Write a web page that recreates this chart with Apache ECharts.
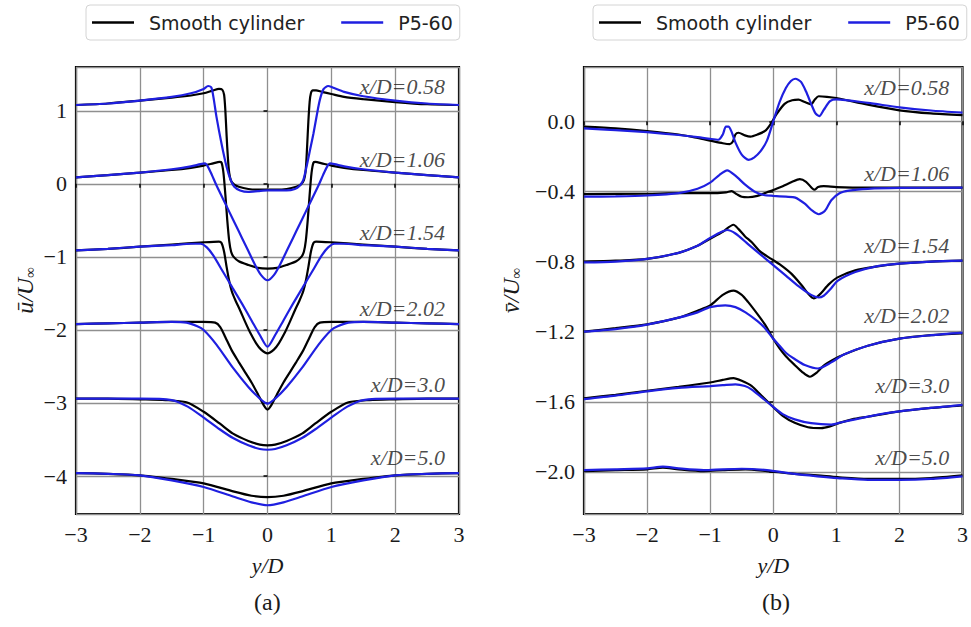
<!DOCTYPE html>
<html>
<head>
<meta charset="utf-8">
<script src="https://cdn.jsdelivr.net/npm/echarts@6/dist/echarts.min.js"></script>
<style>
  html, body { margin: 0; padding: 0; background: #fff; }
  #chart { width: 971px; height: 627px; }
</style>
</head>
<body>
<div id="chart"></div>
<script>
// ---------- station labels ----------
const stations = ['x/D=0.58', 'x/D=1.06', 'x/D=1.54', 'x/D=2.02', 'x/D=3.0', 'x/D=5.0'];
const seriesNames = ['Smooth cylinder', 'P5-60'];

// ---------- (a) streamwise mean velocity, offset by station: [y/D, u/U] ----------
const u058Smooth = [[-3,1.08],[-2.5,1.10],[-2,1.14],[-1.5,1.18],[-1.2,1.21],[-1,1.24],[-0.85,1.28],[-0.76,1.30],[-0.71,1.29],[-0.68,1.22],[-0.66,1.0],[-0.64,0.65],[-0.62,0.35],[-0.6,0.15],[-0.57,0.04],[-0.52,-0.01],[-0.45,-0.04],[-0.3,-0.07],[-0.15,-0.08],[0,-0.08],[0.15,-0.08],[0.3,-0.07],[0.45,-0.04],[0.52,-0.01],[0.57,0.05],[0.6,0.2],[0.62,0.5],[0.64,0.85],[0.66,1.12],[0.68,1.24],[0.71,1.28],[0.76,1.28],[0.85,1.26],[1,1.23],[1.2,1.19],[1.5,1.16],[2,1.12],[2.5,1.09],[3,1.08]];
const u058P560 = [[-3,1.08],[-2.5,1.10],[-2,1.14],[-1.5,1.19],[-1.2,1.24],[-1,1.30],[-0.93,1.34],[-0.88,1.32],[-0.84,1.15],[-0.8,0.92],[-0.72,0.55],[-0.64,0.23],[-0.58,0.06],[-0.52,-0.04],[-0.43,-0.09],[-0.3,-0.11],[-0.15,-0.10],[0,-0.09],[0.15,-0.09],[0.3,-0.09],[0.43,-0.07],[0.5,-0.03],[0.56,0.05],[0.61,0.23],[0.67,0.48],[0.72,0.69],[0.77,0.93],[0.82,1.15],[0.88,1.30],[0.95,1.34],[1.02,1.32],[1.2,1.26],[1.5,1.20],[2,1.14],[2.5,1.10],[3,1.08]];

const u106Smooth = [[-3,0.09],[-2.5,0.12],[-2,0.155],[-1.5,0.19],[-1.2,0.22],[-1,0.25],[-0.85,0.28],[-0.75,0.30],[-0.72,0.29],[-0.69,0.15],[-0.66,-0.15],[-0.63,-0.5],[-0.6,-0.78],[-0.57,-0.93],[-0.53,-1.0],[-0.45,-1.06],[-0.3,-1.11],[-0.15,-1.15],[0,-1.16],[0.15,-1.15],[0.3,-1.11],[0.45,-1.06],[0.53,-1.0],[0.57,-0.93],[0.6,-0.78],[0.63,-0.5],[0.66,-0.15],[0.69,0.15],[0.72,0.29],[0.75,0.30],[0.85,0.28],[1,0.25],[1.2,0.22],[1.5,0.19],[2,0.155],[2.5,0.12],[3,0.09]];
const u106P560 = [[-3,0.09],[-2.5,0.12],[-2,0.155],[-1.5,0.20],[-1.2,0.24],[-1.05,0.27],[-0.98,0.28],[-0.93,0.23],[-0.87,0.12],[-0.8,-0.02],[-0.7,-0.2],[-0.6,-0.38],[-0.5,-0.56],[-0.4,-0.74],[-0.3,-0.92],[-0.2,-1.1],[-0.1,-1.25],[0,-1.32],[0.1,-1.25],[0.2,-1.1],[0.3,-0.92],[0.4,-0.74],[0.5,-0.56],[0.6,-0.38],[0.7,-0.2],[0.8,-0.02],[0.87,0.12],[0.93,0.23],[0.98,0.28],[1.05,0.27],[1.2,0.24],[1.5,0.20],[2,0.155],[2.5,0.12],[3,0.09]];

const u154Smooth = [[-3,-0.91],[-2.5,-0.89],[-2,-0.86],[-1.5,-0.83],[-1,-0.80],[-0.76,-0.79],[-0.72,-0.81],[-0.68,-0.93],[-0.64,-1.14],[-0.6,-1.33],[-0.56,-1.47],[-0.5,-1.60],[-0.43,-1.73],[-0.35,-1.89],[-0.27,-2.04],[-0.18,-2.18],[-0.1,-2.27],[0,-2.32],[0.1,-2.27],[0.18,-2.18],[0.27,-2.04],[0.35,-1.89],[0.43,-1.73],[0.5,-1.60],[0.56,-1.47],[0.6,-1.33],[0.64,-1.14],[0.68,-0.93],[0.72,-0.81],[0.76,-0.79],[1,-0.80],[1.5,-0.83],[2,-0.86],[2.5,-0.89],[3,-0.91]];
const u154P560 = [[-3,-0.91],[-2.5,-0.89],[-2,-0.86],[-1.5,-0.84],[-1.2,-0.82],[-1.05,-0.82],[-0.95,-0.87],[-0.85,-0.98],[-0.7,-1.2],[-0.55,-1.42],[-0.4,-1.64],[-0.25,-1.87],[-0.12,-2.07],[0,-2.23],[0.12,-2.07],[0.25,-1.87],[0.4,-1.64],[0.55,-1.42],[0.7,-1.2],[0.85,-0.98],[0.95,-0.87],[1.05,-0.82],[1.2,-0.82],[1.5,-0.84],[2,-0.86],[2.5,-0.89],[3,-0.91]];

const u202Smooth = [[-3,-1.92],[-2.5,-1.91],[-2,-1.90],[-1.5,-1.89],[-1,-1.89],[-0.82,-1.90],[-0.74,-1.96],[-0.66,-2.10],[-0.56,-2.28],[-0.45,-2.44],[-0.35,-2.58],[-0.25,-2.72],[-0.15,-2.88],[-0.06,-3.03],[0,-3.09],[0.06,-3.03],[0.15,-2.88],[0.25,-2.72],[0.35,-2.58],[0.45,-2.44],[0.56,-2.28],[0.66,-2.10],[0.74,-1.96],[0.82,-1.90],[1,-1.89],[1.5,-1.89],[2,-1.90],[2.5,-1.91],[3,-1.92]];
const u202P560 = [[-3,-1.92],[-2.5,-1.91],[-2,-1.90],[-1.5,-1.89],[-1.27,-1.90],[-1.1,-1.95],[-1.0,-2.0],[-0.8,-2.2],[-0.54,-2.52],[-0.3,-2.78],[-0.12,-2.94],[0,-3.01],[0.12,-2.94],[0.3,-2.78],[0.54,-2.52],[0.8,-2.2],[1.0,-2.0],[1.1,-1.95],[1.27,-1.90],[1.5,-1.89],[2,-1.90],[2.5,-1.91],[3,-1.92]];

const u300Smooth = [[-3,-2.94],[-2.5,-2.94],[-2,-2.95],[-1.6,-2.96],[-1.27,-2.99],[-1,-3.12],[-0.75,-3.28],[-0.54,-3.42],[-0.3,-3.52],[-0.12,-3.57],[0,-3.58],[0.12,-3.57],[0.3,-3.52],[0.54,-3.42],[0.75,-3.28],[1,-3.12],[1.27,-2.99],[1.6,-2.96],[2,-2.95],[2.5,-2.94],[3,-2.94]];
const u300P560 = [[-3,-2.94],[-2.5,-2.94],[-2,-2.94],[-1.5,-2.96],[-1.25,-3.05],[-1,-3.20],[-0.75,-3.36],[-0.54,-3.48],[-0.3,-3.58],[-0.12,-3.63],[0,-3.64],[0.12,-3.63],[0.3,-3.58],[0.54,-3.48],[0.75,-3.36],[1,-3.20],[1.25,-3.05],[1.5,-2.96],[2,-2.94],[2.5,-2.94],[3,-2.94]];

const u500Smooth = [[-3,-3.96],[-2.5,-3.97],[-2,-3.99],[-1.5,-4.04],[-1,-4.10],[-0.54,-4.21],[-0.25,-4.27],[0,-4.29],[0.25,-4.27],[0.54,-4.21],[1,-4.10],[1.5,-4.04],[2,-3.99],[2.5,-3.97],[3,-3.96]];
const u500P560 = [[-3,-3.96],[-2.5,-3.97],[-2,-3.99],[-1.5,-4.06],[-1,-4.15],[-0.54,-4.28],[-0.25,-4.36],[0,-4.40],[0.25,-4.36],[0.54,-4.28],[1,-4.15],[1.5,-4.06],[2,-3.99],[2.5,-3.97],[3,-3.96]];

// ---------- (b) transverse mean velocity, offset by station: [y/D, v/U] ----------
const v058Smooth = [[-3,-0.03],[-2.5,-0.04],[-2,-0.055],[-1.5,-0.075],[-1.2,-0.095],[-1,-0.11],[-0.8,-0.125],[-0.69,-0.13],[-0.64,-0.115],[-0.6,-0.075],[-0.55,-0.065],[-0.45,-0.08],[-0.36,-0.087],[-0.25,-0.075],[-0.13,-0.055],[-0.05,-0.02],[0.05,0.04],[0.18,0.10],[0.3,0.12],[0.4,0.124],[0.5,0.11],[0.6,0.097],[0.66,0.125],[0.72,0.143],[0.85,0.14],[1,0.133],[1.5,0.095],[2,0.063],[2.5,0.045],[3,0.035]];
const v058P560 = [[-3,-0.04],[-2.5,-0.05],[-2,-0.062],[-1.5,-0.078],[-1.2,-0.09],[-1,-0.10],[-0.87,-0.105],[-0.8,-0.075],[-0.75,-0.03],[-0.71,-0.03],[-0.66,-0.06],[-0.6,-0.12],[-0.5,-0.19],[-0.39,-0.22],[-0.3,-0.205],[-0.2,-0.17],[-0.1,-0.11],[0,0.0],[0.1,0.11],[0.2,0.19],[0.28,0.23],[0.35,0.243],[0.44,0.225],[0.52,0.17],[0.6,0.1],[0.67,0.045],[0.73,0.03],[0.8,0.065],[0.9,0.115],[1,0.125],[1.5,0.105],[2,0.08],[2.5,0.062],[3,0.05]];

const v106Smooth = [[-3,-0.415],[-2,-0.413],[-1.5,-0.41],[-1,-0.41],[-0.75,-0.405],[-0.66,-0.398],[-0.58,-0.415],[-0.5,-0.43],[-0.4,-0.433],[-0.25,-0.425],[-0.1,-0.405],[0.05,-0.385],[0.15,-0.37],[0.3,-0.345],[0.42,-0.33],[0.52,-0.345],[0.62,-0.383],[0.66,-0.39],[0.71,-0.375],[0.8,-0.37],[1,-0.375],[1.5,-0.378],[2,-0.378],[3,-0.378]];
const v106P560 = [[-3,-0.43],[-2.5,-0.428],[-2,-0.423],[-1.5,-0.41],[-1.2,-0.385],[-1,-0.35],[-0.85,-0.305],[-0.73,-0.28],[-0.6,-0.31],[-0.45,-0.36],[-0.3,-0.40],[-0.15,-0.42],[0,-0.425],[0.2,-0.43],[0.35,-0.435],[0.5,-0.47],[0.62,-0.51],[0.72,-0.53],[0.82,-0.51],[0.92,-0.45],[1.05,-0.41],[1.2,-0.395],[1.5,-0.385],[2,-0.38],[3,-0.378]];

const v154Smooth = [[-3,-0.80],[-2.5,-0.795],[-2,-0.785],[-1.5,-0.75],[-1.2,-0.71],[-1,-0.67],[-0.8,-0.63],[-0.63,-0.59],[-0.55,-0.615],[-0.45,-0.655],[-0.34,-0.69],[-0.2,-0.745],[-0.03,-0.785],[0.12,-0.82],[0.29,-0.87],[0.45,-0.935],[0.57,-0.99],[0.64,-1.01],[0.73,-0.99],[0.88,-0.93],[1.02,-0.89],[1.3,-0.85],[1.6,-0.83],[2,-0.812],[2.5,-0.80],[3,-0.795]];
const v154P560 = [[-3,-0.805],[-2.5,-0.80],[-2,-0.785],[-1.5,-0.75],[-1.2,-0.71],[-1,-0.665],[-0.85,-0.635],[-0.73,-0.62],[-0.6,-0.64],[-0.4,-0.70],[-0.2,-0.76],[0,-0.82],[0.2,-0.88],[0.4,-0.94],[0.6,-0.99],[0.72,-1.005],[0.8,-0.995],[0.9,-0.96],[1.02,-0.91],[1.3,-0.86],[1.6,-0.83],[2,-0.812],[2.5,-0.80],[3,-0.795]];

const v202Smooth = [[-3,-1.20],[-2.5,-1.18],[-2,-1.158],[-1.5,-1.12],[-1.2,-1.08],[-1,-1.05],[-0.8,-0.99],[-0.63,-0.966],[-0.5,-0.99],[-0.4,-1.03],[-0.25,-1.10],[-0.13,-1.16],[0,-1.24],[0.1,-1.295],[0.2,-1.34],[0.34,-1.39],[0.46,-1.43],[0.58,-1.457],[0.7,-1.43],[0.81,-1.39],[0.95,-1.36],[1.12,-1.33],[1.5,-1.28],[2,-1.24],[2.5,-1.22],[3,-1.21]];
const v202P560 = [[-3,-1.20],[-2.5,-1.185],[-2,-1.16],[-1.5,-1.12],[-1.2,-1.09],[-1,-1.06],[-0.76,-1.05],[-0.6,-1.06],[-0.44,-1.09],[-0.25,-1.14],[-0.13,-1.18],[0,-1.24],[0.1,-1.28],[0.2,-1.32],[0.34,-1.356],[0.5,-1.39],[0.71,-1.41],[0.92,-1.375],[1.12,-1.33],[1.5,-1.28],[2,-1.24],[2.5,-1.22],[3,-1.205]];

const v300Smooth = [[-3,-1.58],[-2.5,-1.56],[-2,-1.537],[-1.5,-1.515],[-1,-1.49],[-0.8,-1.475],[-0.63,-1.465],[-0.5,-1.48],[-0.34,-1.51],[-0.2,-1.56],[-0.03,-1.62],[0.15,-1.68],[0.34,-1.72],[0.55,-1.745],[0.76,-1.75],[0.9,-1.74],[1.05,-1.72],[1.25,-1.70],[1.5,-1.685],[2,-1.655],[2.5,-1.635],[3,-1.62]];
const v300P560 = [[-3,-1.585],[-2.5,-1.565],[-2,-1.54],[-1.5,-1.52],[-1,-1.51],[-0.8,-1.505],[-0.6,-1.50],[-0.45,-1.51],[-0.34,-1.53],[-0.2,-1.57],[-0.03,-1.62],[0.15,-1.67],[0.34,-1.70],[0.6,-1.722],[0.92,-1.73],[1.1,-1.715],[1.3,-1.70],[1.6,-1.677],[2,-1.655],[2.5,-1.635],[3,-1.618]];

const v500Smooth = [[-3,-1.995],[-2.5,-1.99],[-2,-1.985],[-1.75,-1.975],[-1.5,-1.985],[-1.1,-1.995],[-0.8,-1.99],[-0.44,-1.985],[-0.1,-1.995],[0.3,-2.01],[0.7,-2.02],[1.02,-2.03],[1.5,-2.04],[2,-2.04],[2.5,-2.035],[3,-2.02]];
const v500P560 = [[-3,-1.99],[-2.5,-1.985],[-2,-1.98],[-1.75,-1.97],[-1.5,-1.98],[-1.1,-1.99],[-0.8,-1.985],[-0.5,-1.982],[-0.1,-1.99],[0.3,-2.01],[0.7,-2.025],[1.02,-2.035],[1.5,-2.045],[2,-2.045],[2.5,-2.04],[3,-2.025]];

// anchor (right edge, vertical centre) of each station caption, in data units
const uCaptionAt = [[2.78,1.33],[2.78,0.33],[2.78,-0.67],[2.78,-1.70],[2.78,-2.75],[2.78,-3.75]];
const vCaptionAt = [[2.79,0.194],[2.79,-0.297],[2.79,-0.709],[2.79,-1.109],[2.79,-1.509],[2.79,-1.92]];

const uSmooth = [u058Smooth, u106Smooth, u154Smooth, u202Smooth, u300Smooth, u500Smooth];
const uP560 = [u058P560, u106P560, u154P560, u202P560, u300P560, u500P560];
const vSmooth = [v058Smooth, v106Smooth, v154Smooth, v202Smooth, v300Smooth, v500Smooth];
const vP560 = [v058P560, v106P560, v154P560, v202P560, v300P560, v500P560];

// ---------- styling ----------
const SERIF = "'Liberation Serif', 'Times New Roman', serif";
const SANS = "'DejaVu Sans', sans-serif";
const BLACK = '#000000';
const BLUE = '#1f1fe0';
const TXT = '#1a1a1a';
const GRIDLINE = '#8f8f8f';

const minus = s => String(s).replace('-', '\u2212');

function xAxisFor(gridIndex) {
  return {
    type: 'value', gridIndex, min: -3, max: 3, interval: 1,
    name: 'y/D', nameLocation: 'middle', nameGap: 40,
    nameTextStyle: { fontFamily: SERIF, fontStyle: 'italic', fontSize: 22, color: TXT },
    axisLine: { show: false },
    axisTick: { show: true, inside: false, length: 4, lineStyle: { color: '#000', width: 1.5 } },
    axisLabel: { margin: 9, fontFamily: SERIF, fontSize: 22, color: TXT, formatter: v => minus(v) },
    splitLine: { show: true, lineStyle: { color: GRIDLINE, width: 1.3 } }
  };
}

function yAxisFor(gridIndex, min, max, step, digits, nameRich, gap) {
  return {
    type: 'value', gridIndex, min, max, splitNumber: 6, minInterval: step, maxInterval: step,
    name: nameRich, nameLocation: 'middle', nameGap: gap, nameRotate: 90,
    nameTextStyle: {
      rich: {
        a: { fontFamily: SERIF, fontStyle: 'italic', fontSize: 24, color: TXT },
        b: { fontFamily: SERIF, fontSize: 15, color: TXT, verticalAlign: 'bottom' }
      }
    },
    axisLine: { show: false },
    axisTick: { show: true, inside: false, length: 4, lineStyle: { color: '#000', width: 1.5 } },
    axisLabel: {
      margin: 9, fontFamily: SERIF, fontSize: 22, color: TXT,
      showMinLabel: false, showMaxLabel: false,
      formatter: v => minus(Number(v).toFixed(digits))
    },
    splitLine: { show: true, lineStyle: { color: GRIDLINE, width: 1.3 } }
  };
}

function profileSeries(gridIndex, smoothSet, p560Set) {
  const out = [];
  for (let i = 0; i < smoothSet.length; i++) {
    out.push({
      type: 'line', name: seriesNames[0], xAxisIndex: gridIndex, yAxisIndex: gridIndex,
      data: smoothSet[i], symbol: 'none', smooth: 0.25,
      lineStyle: { color: BLACK, width: 2.2 }, itemStyle: { color: BLACK }, z: 3
    });
    out.push({
      type: 'line', name: seriesNames[1], xAxisIndex: gridIndex, yAxisIndex: gridIndex,
      data: p560Set[i], symbol: 'none', smooth: 0.25,
      lineStyle: { color: BLUE, width: 2.2 }, itemStyle: { color: BLUE }, z: 4
    });
  }
  return out;
}

function captionSeries(gridIndex, anchors) {
  return {
    type: 'scatter', xAxisIndex: gridIndex, yAxisIndex: gridIndex, silent: true,
    symbolSize: 0, z: 6,
    data: anchors.map((p, i) => ({ value: p, name: stations[i] })),
    label: {
      show: true, position: 'left', distance: 0, formatter: p => p.name,
      fontFamily: SERIF, fontStyle: 'italic', fontSize: 22, color: TXT
    }
  };
}

function legendFor(left) {
  return {
    left, top: 5, orient: 'horizontal',
    data: seriesNames.map(n => ({ name: n, icon: 'rect' })),
    itemWidth: 42, itemHeight: 2.6, itemGap: 37,
    padding: [8, 7, 8, 6],
    borderColor: '#d4d4d4', borderWidth: 1, borderRadius: 4,
    backgroundColor: '#fff',
    textStyle: { fontFamily: SANS, fontSize: 19, color: '#222', padding: [0, 0, 0, 10] }
  };
}

const chart = echarts.init(document.getElementById('chart'), null, { renderer: 'svg' });

chart.setOption({
  animation: false,
  backgroundColor: '#fff',
  legend: [legendFor(86), legendFor(593)],
  grid: [
    { left: 76, top: 67, width: 383, height: 447, show: true, borderColor: '#000', borderWidth: 2.2, backgroundColor: 'transparent' },
    { left: 584, top: 67, width: 382, height: 447, show: true, borderColor: '#000', borderWidth: 2.2, backgroundColor: 'transparent' }
  ],
  xAxis: [xAxisFor(0), xAxisFor(1)],
  yAxis: [
    yAxisFor(0, -4.52, 1.6, 1, 0, '{a|\u016B/U}{b|\u221E}', 39),
    yAxisFor(1, -2.24, 0.31, 0.4, 1, '{a|v\u0304/U}{b|\u221E}', 61)
  ],
  graphic: [
    { type: 'text', left: 254, top: 590, style: { text: '(a)', font: '24px ' + SERIF, fill: TXT } },
    { type: 'text', left: 762, top: 590, style: { text: '(b)', font: '24px ' + SERIF, fill: TXT } }
  ],
  series: [
    ...profileSeries(0, uSmooth, uP560),
    ...profileSeries(1, vSmooth, vP560),
    captionSeries(0, uCaptionAt),
    captionSeries(1, vCaptionAt)
  ]
});
</script>
</body>
</html>
